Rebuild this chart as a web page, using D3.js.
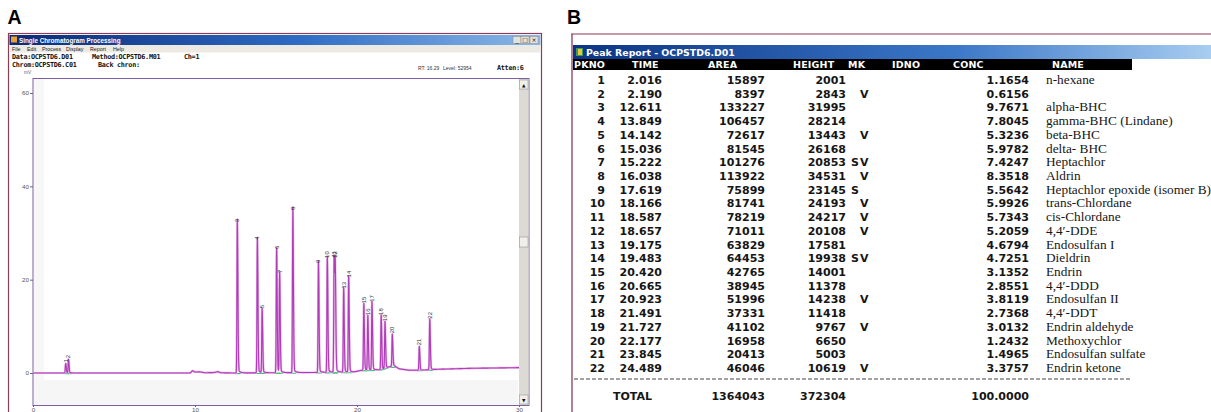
<!DOCTYPE html>
<html><head><meta charset="utf-8">
<script src="https://cdn.jsdelivr.net/npm/d3@7/dist/d3.min.js"></script>
<style>
body{margin:0;background:#fff;}
svg{display:block;}
</style>
</head><body>
<svg id="c" width="1211" height="412"></svg>
<script>
// ---------------- DATA ----------------
const pkno    = [1,2,3,4,5,6,7,8,9,10,11,12,13,14,15,16,17,18,19,20,21,22];
const times   = [2.016,2.190,12.611,13.849,14.142,15.036,15.222,16.038,17.619,18.166,18.587,18.657,19.175,19.483,20.420,20.665,20.923,21.491,21.727,22.177,23.845,24.489];
const timeTxt = ["2.016","2.190","12.611","13.849","14.142","15.036","15.222","16.038","17.619","18.166","18.587","18.657","19.175","19.483","20.420","20.665","20.923","21.491","21.727","22.177","23.845","24.489"];
const areas   = [15897,8397,133227,106457,72617,81545,101276,113922,75899,81741,78219,71011,63829,64453,42765,38945,51996,37331,41102,16958,20413,46046];
const heights = [2001,2843,31995,28214,13443,26168,20853,34531,23145,24193,24217,20108,17581,19938,14001,11378,14238,11418,9767,6650,5003,10619];
const marks   = [""," V","",""," V","","SV"," V","S"," V"," V"," V","","SV","",""," V",""," V","",""," V"];
const concTxt = ["1.1654","0.6156","9.7671","7.8045","5.3236","5.9782","7.4247","8.3518","5.5642","5.9926","5.7343","5.2059","4.6794","4.7251","3.1352","2.8551","3.8119","2.7368","3.0132","1.2432","1.4965","3.3757"];
const names   = ["n-hexane","","alpha-BHC","gamma-BHC (Lindane)","beta-BHC","delta- BHC","Heptachlor","Aldrin","Heptachlor epoxide (isomer B)","trans-Chlordane","cis-Chlordane","4,4\u2032-DDE","Endosulfan I","Dieldrin","Endrin","4,4\u2032-DDD","Endosulfan II","4,4\u2032-DDT","Endrin aldehyde","Methoxychlor","Endosulfan sulfate","Endrin ketone"];
const headers = ["PKNO","TIME","AREA","HEIGHT","MK","IDNO","CONC","NAME"];
const totals  = ["TOTAL","1364043","372304","100.0000"];

// baseline drift of the trace (min, mV)
const baseTimes  = [0, 9.7, 9.85, 10.0, 10.3, 10.6, 11.2, 11.4, 11.6, 12.4, 17.0, 19.8, 20.3, 21.5, 22.25, 22.6, 23.2, 24.0, 25.0, 27.0, 30.0];
const baseLevels = [0, 0,   0.5,  0.2,  0.25, 0.05, 0.1,  0.3,  0.05, 0,    0.1,  0.2,  0.6,  0.7,  1.6,   0.9,  0.6,  0.6,  0.8,  1.0,  1.15];

const yTicks = [0,20,40,60];
const xTicks = [0,10,20,30];
const xTickLabels = ["0","10","20","30"];

const menuItems = ["File","Edit","Process","Display","Report","Help"];

// ---------------- SVG ----------------
const svg = d3.select("#c");
const defs = svg.append("defs");
const g1 = defs.append("linearGradient").attr("id","tbA");
g1.append("stop").attr("offset","0").attr("stop-color","#0a2a78");
g1.append("stop").attr("offset","0.55").attr("stop-color","#2f6cc4");
g1.append("stop").attr("offset","1").attr("stop-color","#8cb8e8");
const g2 = defs.append("linearGradient").attr("id","tbB");
g2.append("stop").attr("offset","0").attr("stop-color","#0b3486");
g2.append("stop").attr("offset","0.6").attr("stop-color","#3b78c8");
g2.append("stop").attr("offset","1").attr("stop-color","#a8cdf0");

// panel letters
svg.append("text").attr("x",7.5).attr("y",24).text("A")
  .attr("font-family","Liberation Sans, Arial, sans-serif").attr("font-weight","bold").attr("font-size",19.5);
svg.append("text").attr("x",567).attr("y",24).text("B")
  .attr("font-family","Liberation Sans, Arial, sans-serif").attr("font-weight","bold").attr("font-size",19.5);

// ============ PANEL A ============
const A = svg.append("g");
const frameCol = "#8a3d55";
A.append("rect").attr("x",8.5).attr("y",33.5).attr("width",533).attr("height",400)
  .attr("fill","#fff").attr("stroke",frameCol).attr("stroke-width",1.2);
A.append("rect").attr("x",9.5).attr("y",35).attr("width",531).attr("height",10).attr("fill","url(#tbA)");
A.append("rect").attr("x",11).attr("y",36.5).attr("width",6).attr("height",6).attr("fill","#e8a030");
A.append("text").attr("x",19).attr("y",42.6).text("Single Chromatogram Processing")
  .attr("fill","#fff").attr("font-family","Liberation Sans, Arial, sans-serif").attr("font-weight","bold").attr("font-size",6.3);
const btnX = [513,521,530];
const btnG = ["_","\u25A1","\u00D7"];
btnX.forEach((bx,i)=>{
  A.append("rect").attr("x",bx).attr("y",36.5).attr("width",8).attr("height",7).attr("fill","#e4e2dc").attr("stroke","#888").attr("stroke-width",0.5);
  A.append("text").attr("x",bx+4).attr("y",42.3).attr("text-anchor","middle").text(btnG[i])
    .attr("font-family","DejaVu Sans, sans-serif").attr("font-size",6).attr("fill","#111");
});
A.append("rect").attr("x",9.5).attr("y",45).attr("width",531).attr("height",7.5).attr("fill","#eceae2");
const menuX = [12,27,42,66,90,113];
A.selectAll("text.menu").data(menuItems).join("text").attr("class","menu")
  .attr("x",(d,i)=>menuX[i]).attr("y",50.8).text(d=>d)
  .attr("font-family","Liberation Sans, Arial, sans-serif").attr("font-size",5.3).attr("fill","#222");
const mono = "DejaVu Sans Mono, monospace";
function infoText(x,y,t){
  A.append("text").attr("x",x).attr("y",y).text(t)
    .attr("font-family",mono).attr("font-weight","bold").attr("font-size",6.8)
    .attr("letter-spacing",-0.3).attr("fill","#111");
}
infoText(12,59,"Data:OCPSTD6.D01");
infoText(92,59,"Method:OCPSTD6.M01");
infoText(184,59,"Ch=1");
infoText(12,66.5,"Chrom:OCPSTD6.C01");
infoText(98,66.5,"Back chron:");
A.append("text").attr("x",418).attr("y",70).text("RT: 16.29")
  .attr("font-family","Liberation Sans, Arial, sans-serif").attr("font-size",5).attr("fill","#333");
A.append("text").attr("x",443).attr("y",70).text("Level: 52954")
  .attr("font-family","Liberation Sans, Arial, sans-serif").attr("font-size",5).attr("fill","#333");
infoText(497,70,"Atten:6");

// plot area
const x = d3.scaleLinear().domain([0,30]).range([33,519]);
const y = d3.scaleLinear().domain([0,60]).range([373,93]);
A.append("rect").attr("x",33).attr("y",78.5).attr("width",496).attr("height",327)
  .attr("fill","#fff").attr("stroke","#7f5f9f").attr("stroke-width",1);
A.append("rect").attr("x",34).attr("y",79).attr("width",10).attr("height",325).attr("fill","#f7f7f7");
A.append("rect").attr("x",34).attr("y",y(-1.5)).attr("width",484).attr("height",405-y(-1.5)).attr("fill","#f6f6f6");

const yAxis = A.append("g").attr("transform","translate(33,0)")
  .call(d3.axisLeft(y).tickValues(yTicks).tickSize(3).tickPadding(1));
yAxis.select(".domain").remove();
yAxis.selectAll("text").attr("font-family","Liberation Sans, Arial, sans-serif").attr("font-size",6.2).attr("fill","#555");
yAxis.selectAll("line").attr("stroke","#666");
A.append("text").attr("x",24).attr("y",74).text("mV")
  .attr("font-family","Liberation Sans, Arial, sans-serif").attr("font-size",4.8).attr("fill","#666");
const xAxis = A.append("g").attr("transform","translate(0,405)")
  .call(d3.axisBottom(x).tickValues(xTicks).tickFormat((d,i)=>xTickLabels[i]).tickSize(2).tickPadding(1));
xAxis.select(".domain").remove();
xAxis.selectAll("text").attr("font-family","Liberation Sans, Arial, sans-serif").attr("font-size",6.2).attr("fill","#555");
xAxis.selectAll("line").attr("stroke","#666");

// trace
const baseline = d3.scaleLinear().domain(baseTimes).range(baseLevels).clamp(true);
function signal(t){
  let s = baseline(t);
  times.forEach((tc,i)=>{
    const d = t - tc;
    const sg = d < 0 ? 0.022 : 0.036;
    s += heights[i]/1000 * Math.exp(-0.5*d*d/(sg*sg));
    if (d > 0) s += heights[i]/1000*0.03*Math.exp(-d/0.12);
  });
  return s;
}
const sampleT = d3.range(0, 30.0005, 0.004);
const pts = sampleT.map(t=>[t, signal(t)]);
A.selectAll("line.ib").data(times).join("line").attr("class","ib")
  .attr("x1",t=>x(t-0.14)).attr("x2",t=>x(t+0.22))
  .attr("y1",t=>y(baseline(t-0.14))+0.6).attr("y2",t=>y(baseline(t+0.22))+0.6)
  .attr("stroke","#3cbf7a").attr("stroke-width",1.1);
A.append("path").datum(pts)
  .attr("d", d3.line().x(d=>x(d[0])).y(d=>y(d[1])))
  .attr("fill","none").attr("stroke","#e6b4e8").attr("stroke-width",2.2).attr("stroke-linejoin","round");
A.append("path").datum(pts)
  .attr("d", d3.line().x(d=>x(d[0])).y(d=>y(d[1])))
  .attr("fill","none").attr("stroke","#b03cb8").attr("stroke-width",1.1).attr("stroke-linejoin","round");
A.selectAll("text.pk").data(pkno).join("text").attr("class","pk")
  .attr("transform",(d,i)=>`translate(${x(times[i])+2},${y(signal(times[i]))-1.5}) rotate(-90)`)
  .text(d=>d)
  .attr("font-family","Liberation Sans, Arial, sans-serif").attr("font-size",6).attr("fill","#333");

// scrollbar
A.append("rect").attr("x",519).attr("y",79).attr("width",9.5).attr("height",326).attr("fill","#dcdad4");
[[80,"\u25B2"],[395,"\u25BC"]].forEach(([by,gl])=>{
  A.append("rect").attr("x",519.5).attr("y",by).attr("width",8.5).attr("height",9).attr("fill","#f0efea").attr("stroke","#888").attr("stroke-width",0.5);
  A.append("text").attr("x",523.8).attr("y",by+6.5).attr("text-anchor","middle").text(gl)
    .attr("font-family","DejaVu Sans, sans-serif").attr("font-size",4.5).attr("fill","#111");
});
A.append("rect").attr("x",519.5).attr("y",237).attr("width",8.5).attr("height",10).attr("fill","#f0efea").attr("stroke","#888").attr("stroke-width",0.5);

// ============ PANEL B ============
const B = svg.append("g");
B.append("line").attr("x1",571).attr("x2",1211).attr("y1",34).attr("y2",34).attr("stroke","#b07a8a").attr("stroke-width",1.5);
B.append("line").attr("x1",572).attr("x2",572).attr("y1",34).attr("y2",412).attr("stroke",frameCol).attr("stroke-width",1.3);
B.append("rect").attr("x",573).attr("y",45).attr("width",638).attr("height",14).attr("fill","url(#tbB)");
B.append("rect").attr("x",576).attr("y",48).attr("width",7).attr("height",8).attr("fill","#3a9a5a");
B.append("rect").attr("x",578).attr("y",49).attr("width",4).attr("height",6).attr("fill","#f0c040");
B.append("text").attr("x",586).attr("y",55.8).text("Peak Report - OCPSTD6.D01")
  .attr("fill","#fff").attr("font-family","DejaVu Sans, sans-serif").attr("font-weight","bold").attr("font-size",9.4);
B.append("rect").attr("x",573).attr("y",59).attr("width",559).attr("height",11).attr("fill","#000");
const headX = [574,632,708,793,848,892,953,1052];
const numFont = "DejaVu Sans, sans-serif";
B.selectAll("text.hd").data(headers).join("text").attr("class","hd")
  .attr("x",(d,i)=>headX[i]).attr("y",68.2).text(d=>d)
  .attr("fill","#fff").attr("font-family",numFont).attr("font-weight","bold").attr("font-size",9.5).attr("letter-spacing",0.2);

const rowY = d3.scaleLinear().domain([0,21]).range([80,368]);
function col(arr, xpos, anchor, cls, font, size, weight){
  B.selectAll("text."+cls).data(arr).join("text").attr("class",cls)
    .attr("x",xpos).attr("y",(d,i)=>rowY(i)+4).attr("text-anchor",anchor).text(d=>d)
    .attr("font-family",font).attr("font-size",size).attr("font-weight",weight).attr("fill","#161616");
}
col(pkno, 605, "end", "c1", numFont, 11, "bold");
col(timeTxt, 662, "end", "c2", numFont, 11, "bold");
col(areas, 765, "end", "c3", numFont, 11, "bold");
col(heights, 846, "end", "c4", numFont, 11, "bold");
col(concTxt, 1029, "end", "c6", numFont, 11, "bold");
col(names, 1046, "start", "c7", "Liberation Serif, Times New Roman, serif", 13.3, "normal");
marks.forEach((m,i)=>{
  m.split("").forEach((ch,k)=>{
    if (ch === " ") return;
    B.append("text").attr("x",851 + k*9).attr("y",rowY(i)+4).text(ch)
      .attr("font-family",numFont).attr("font-size",11).attr("font-weight","bold").attr("fill","#161616");
  });
});
B.append("line").attr("x1",574).attr("x2",1132).attr("y1",379).attr("y2",379)
  .attr("stroke","#444").attr("stroke-width",1).attr("stroke-dasharray","4,2");
const totX = [613,765,846,1029];
const totA = ["start","end","end","end"];
B.selectAll("text.tot").data(totals).join("text").attr("class","tot")
  .attr("x",(d,i)=>totX[i]).attr("y",400).attr("text-anchor",(d,i)=>totA[i]).text(d=>d)
  .attr("font-family",numFont).attr("font-size",11).attr("font-weight","bold").attr("fill","#161616");
</script>
</body></html>
